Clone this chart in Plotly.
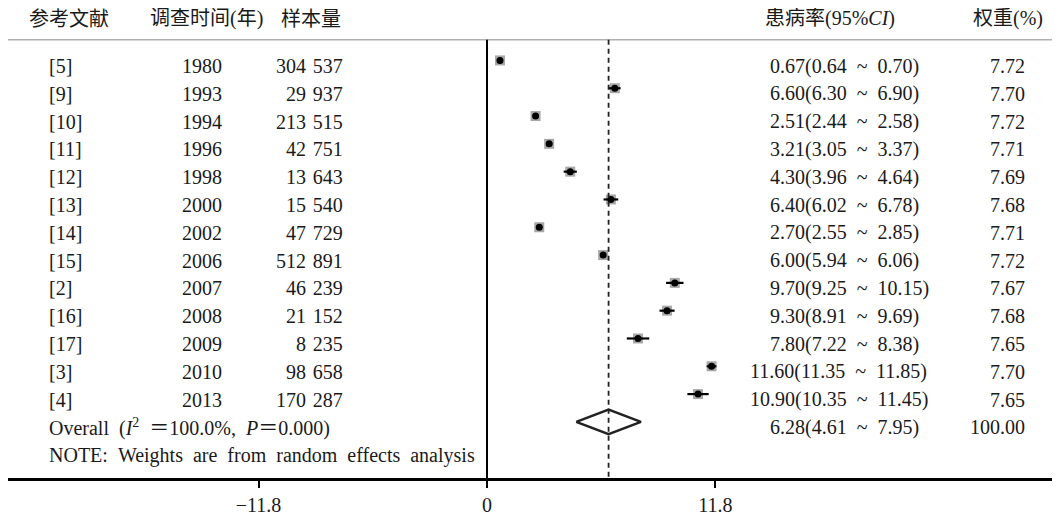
import plotly.graph_objects as go

refs = ["[5]", "[9]", "[10]", "[11]", "[12]", "[13]", "[14]", "[15]", "[2]", "[16]", "[17]", "[3]", "[4]"]
years = ["1980", "1993", "1994", "1996", "1998", "2000", "2002", "2006", "2007", "2008", "2009", "2010", "2013"]
samples = ["304 537", "29 937", "213 515", "42 751", "13 643", "15 540", "47 729", "512 891", "46 239", "21 152", "8 235", "98 658", "170 287"]
est = [0.67, 6.60, 2.51, 3.21, 4.30, 6.40, 2.70, 6.00, 9.70, 9.30, 7.80, 11.60, 10.90]
lo = [0.64, 6.30, 2.44, 3.05, 3.96, 6.02, 2.55, 5.94, 9.25, 8.91, 7.22, 11.35, 10.35]
hi = [0.70, 6.90, 2.58, 3.37, 4.64, 6.78, 2.85, 6.06, 10.15, 9.69, 8.38, 11.85, 11.45]
weights = ["7.72", "7.70", "7.72", "7.71", "7.69", "7.68", "7.71", "7.72", "7.67", "7.68", "7.65", "7.70", "7.65"]
overall_est, overall_lo, overall_hi = 6.28, 4.61, 7.95
overall_weight = "100.00"
tick_vals = [-11.8, 0, 11.8]
tick_text = ["\u221211.8", "0", "11.8"]

# the page body has an 8px margin: the figure is placed at (8, 8) on screen
OFF = 8
SW, SH = 1060, 516
W, H = SW - OFF, SH - OFF
FONT = "Liberation Serif, Times New Roman, Noto Sans CJK SC, serif"
TC = "#1a1a1a"
FS = 20
SP = "\u2002"
NSP = " \u200a"

rows = list(range(len(refs)))
r_over = len(refs)
r_note = r_over + 1

Y0, DY, YAX = 61.0, 28.1, 483.0
def v_of(sy):
    return (sy - Y0) / DY
y_head = v_of(19)
y_line = v_of(40)
y_bot = v_of(YAX)
y_top = v_of(OFF)
toff = 0.2

X0, DX = 487.0, 19.36
x_lo_rng = (OFF - X0) / DX
x_hi_rng = (SW - X0) / DX

fig = go.Figure()

fig.add_trace(go.Scatter(x=est, y=rows, mode="markers",
                         marker=dict(symbol="square", size=10, color="#a8a8a8", line=dict(width=0)),
                         hoverinfo="skip", showlegend=False))
fig.add_trace(go.Scatter(x=est, y=rows, mode="markers",
                         marker=dict(symbol="circle", size=7, color="black"),
                         error_x=dict(type="data", symmetric=False,
                                      array=[h - e for h, e in zip(hi, est)],
                                      arrayminus=[e - l for e, l in zip(est, lo)],
                                      thickness=2.2, width=0, color="black"),
                         hoverinfo="skip", showlegend=False))

fig.add_shape(type="line", xref="paper", yref="y", x0=0, x1=1, y0=y_line, y1=y_line,
              line=dict(color="#b0b0b0", width=1.5))
fig.add_shape(type="line", xref="x", yref="y", x0=0, x1=0, y0=y_line, y1=y_bot,
              line=dict(color="black", width=2))
fig.add_shape(type="line", xref="x", yref="y", x0=overall_est, x1=overall_est, y0=y_line, y1=y_bot,
              line=dict(color="#222222", width=1.8, dash="5px,4px"))

dh = 0.44
fig.add_trace(go.Scatter(x=[overall_lo, overall_est, overall_hi, overall_est, overall_lo],
                         y=[r_over, r_over - dh, r_over, r_over + dh, r_over],
                         mode="lines", line=dict(color="#222222", width=2.5),
                         hoverinfo="skip", showlegend=False))

def px(sx):
    return (sx - OFF) / W

def add_text(x_px, y, text, anchor):
    fig.add_annotation(x=px(x_px), y=y, xref="paper", yref="y", text=text, showarrow=False,
                       xanchor=anchor, yanchor="middle", font=dict(family=FONT, size=FS, color=TC))

def ci_text(e, l, h):
    return f"{e:.2f}({l:.2f}{SP}~{SP}{h:.2f})"

add_text(27, y_head, "参考文献", "left")
add_text(148, y_head, "调查时间(年)", "left")
add_text(343, y_head, "样本量", "right")
add_text(763, y_head, "患病率(95%<i>CI</i>)", "left")
add_text(1045, y_head, "权重(%)", "right")

for i in rows:
    y = i + toff
    add_text(47, y, refs[i], "left")
    add_text(224, y, years[i], "right")
    add_text(345, y, samples[i].replace(" ", NSP), "right")
    add_text(768 if est[i] < 10 else 748, y, ci_text(est[i], lo[i], hi[i]), "left")
    add_text(1027, y, weights[i], "right")

add_text(47, r_over + toff,
         f"Overall{SP}(<i>I</i><sup>2</sup>{SP}\uff1d100.0%,{SP}<i>P</i>\uff1d0.000)", "left")
add_text(768, r_over + toff, ci_text(overall_est, overall_lo, overall_hi), "left")
add_text(1027, r_over + toff, overall_weight, "right")
add_text(47, r_note + toff, "NOTE: Weights are from random effects analysis".replace(" ", SP), "left")

fig.update_layout(
    width=W, height=H,
    margin=dict(l=0, r=0, t=0, b=int(SH - YAX)),
    paper_bgcolor="white", plot_bgcolor="white",
    font=dict(family=FONT, size=FS, color=TC),
    xaxis=dict(range=[x_lo_rng, x_hi_rng], showgrid=False, zeroline=False,
               showline=True, linecolor="black", linewidth=3,
               tickmode="array", tickvals=tick_vals, ticktext=tick_text,
               ticks="outside", ticklen=7, tickwidth=2, tickcolor="black",
               tickfont=dict(family=FONT, size=FS, color=TC)),
    yaxis=dict(range=[y_bot, y_top], showgrid=False, zeroline=False, showline=False,
               showticklabels=False, ticks=""),
    showlegend=False,
)

fig.write_html("out.html")
